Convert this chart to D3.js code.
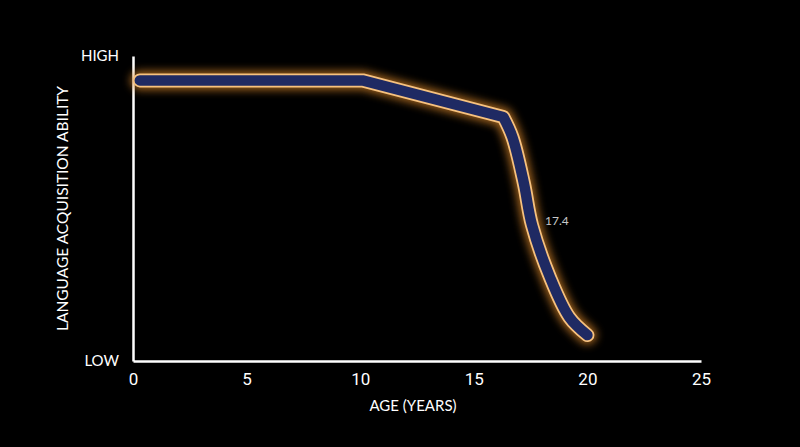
<!DOCTYPE html>
<html>
<head>
<meta charset="utf-8">
<script src="https://cdn.jsdelivr.net/npm/d3@7"></script>
<style>
  html, body { margin: 0; padding: 0; background: #000; }
  svg { display: block; }
</style>
</head>
<body>
<script>
// ages (years) and ability (0 = LOW, 100 = HIGH)
const ages    = [0.3, 10.1, 16.3, 16.7, 17.2, 17.56, 18.35, 19.2, 20.0];
const ability = [92, 92, 80, 73.4, 58.4, 44.6, 27.5, 14.4, 8.5];
const xTicks = [0, 5, 10, 15, 20, 25];
const yTickLabels = ['LOW', 'HIGH'];
const annotation = { age: 17.4, value: 17.4 };

const w = 800, h = 447;
const margin = { top: 56, right: 99, bottom: 86, left: 133 };
const innerW = w - margin.left - margin.right;
const innerH = h - margin.top - margin.bottom;

const svg = d3.select('body').append('svg')
    .attr('width', w)
    .attr('height', h)
    .style('background', '#000');

const defs = svg.append('defs');
const glow = defs.append('filter')
    .attr('id', 'glow')
    .attr('x', '-20%').attr('y', '-20%')
    .attr('width', '140%').attr('height', '140%');
glow.append('feGaussianBlur').attr('stdDeviation', 4);

const x = d3.scaleLinear().domain([0, 25]).range([0, innerW]);
const y = d3.scaleLinear().domain([0, 100]).range([innerH, 0]);

const g = svg.append('g')
    .attr('transform', `translate(${margin.left},${margin.top})`);

const font = 'Lato, "Open Sans", sans-serif';
const tickFont = 'Roboto, Lato, sans-serif';

// x axis
const xAxisG = g.append('g')
    .attr('transform', `translate(0,${innerH})`)
    .call(d3.axisBottom(x).tickValues(xTicks).tickSize(0).tickPadding(12));
xAxisG.select('.domain').attr('stroke', '#fff').attr('stroke-width', 2.5);
xAxisG.selectAll('text')
    .attr('fill', '#fff')
    .style('font-family', tickFont)
    .style('font-size', '17px');

// y axis
const yAxisG = g.append('g')
    .call(d3.axisLeft(y).tickValues([0, 100]).tickFormat((d, i) => yTickLabels[i]).tickSize(0).tickPadding(14));
yAxisG.select('.domain').attr('stroke', '#fff').attr('stroke-width', 2.5);
yAxisG.selectAll('text')
    .attr('fill', '#fff')
    .style('font-family', font)
    .style('font-size', '15px');

// axis titles
g.append('text')
    .attr('x', innerW / 2 - 4)
    .attr('y', innerH + 50)
    .attr('text-anchor', 'middle')
    .attr('fill', '#fff')
    .style('font-family', font)
    .style('font-size', '15px')
    .text('AGE (YEARS)');

g.append('text')
    .attr('transform', `translate(${-65},${innerH / 2}) rotate(-90)`)
    .attr('text-anchor', 'middle')
    .attr('fill', '#fff')
    .style('font-family', font)
    .style('font-size', '15.5px')
    .text('LANGUAGE ACQUISITION ABILITY');

// the curve: straight plateau + slow decline, smooth steep drop
const pts = ages.map((a, i) => [a, ability[i]]);
const straight = d3.line()
    .x(d => x(d[0]))
    .y(d => y(d[1]))
    .curve(d3.curveLinear);
const smooth = d3.line()
    .x(d => x(d[0]))
    .y(d => y(d[1]))
    .curve(d3.curveCatmullRom.alpha(0.5));

const path = straight(pts.slice(0, 3)) + smooth(pts.slice(2)).replace(/^M/, 'L');

g.append('path')
    .attr('d', path)
    .attr('fill', 'none')
    .attr('stroke', '#e08a2a')
    .attr('stroke-width', 19)
    .attr('stroke-linecap', 'round')
    .attr('stroke-linejoin', 'round')
    .attr('opacity', 0.7)
    .attr('filter', 'url(#glow)');

g.append('path')
    .attr('d', path)
    .attr('fill', 'none')
    .attr('stroke', '#f7c27f')
    .attr('stroke-width', 14)
    .attr('stroke-linecap', 'round')
    .attr('stroke-linejoin', 'round');

g.append('path')
    .attr('d', path)
    .attr('fill', 'none')
    .attr('stroke', '#1f2a63')
    .attr('stroke-width', 10.5)
    .attr('stroke-linecap', 'round')
    .attr('stroke-linejoin', 'round');

// annotation
g.append('text')
    .attr('x', 545 - margin.left)
    .attr('y', y(44.5))
    .attr('fill', '#c8c8c8')
    .style('font-family', font)
    .style('font-size', '12px')
    .text(annotation.value);
</script>
</body>
</html>
